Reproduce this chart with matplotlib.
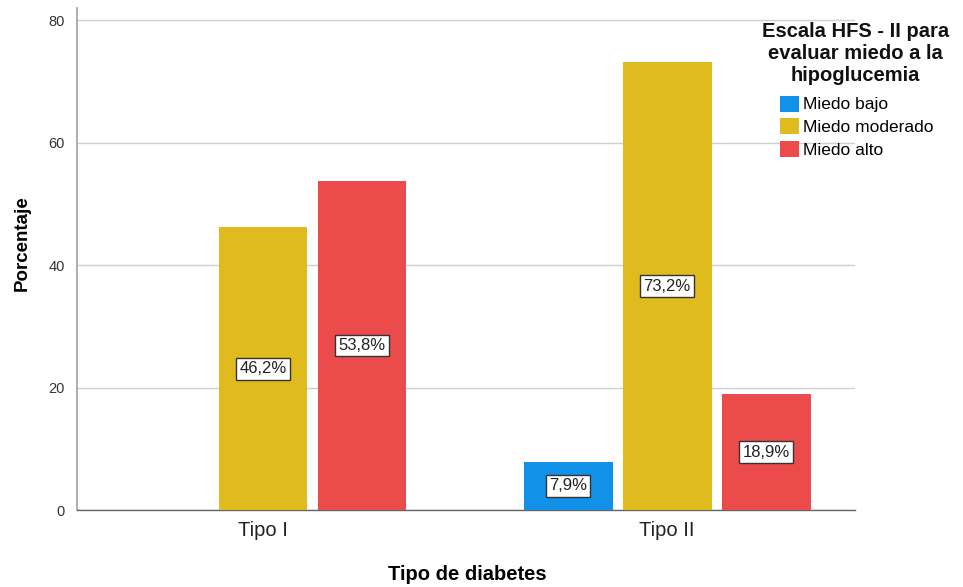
import matplotlib
matplotlib.use("Agg")
import matplotlib.pyplot as plt
import numpy as np

categories = ["Tipo I", "Tipo II"]
series_names = ["Miedo bajo", "Miedo moderado", "Miedo alto"]
miedo_bajo = [None, 7.9]
miedo_moderado = [46.2, 73.2]
miedo_alto = [53.8, 18.9]
colors = ["#1192E8", "#DFBB1E", "#EB4B4B"]
yticks = [0, 20, 40, 60, 80]
legend_title = "Escala HFS - II para\nevaluar miedo a la\nhipoglucemia"

plt.rcParams['font.family'] = ['Liberation Sans', 'DejaVu Sans']

fig = plt.figure(figsize=(9.63, 5.87), dpi=100)
ax = fig.add_axes([0.080, 0.131, 0.808, 0.855])

x = np.arange(len(categories))
width = 0.22
offsets = [-0.245, 0.0, 0.245]
all_series = [miedo_bajo, miedo_moderado, miedo_alto]

handles = []
for s, (vals, off, col, name) in enumerate(zip(all_series, offsets, colors, series_names)):
    xs = [xi + off for xi, v in zip(x, vals) if v is not None]
    vs = [v for v in vals if v is not None]
    bars = ax.bar(xs, vs, width=width, color=col, label=name, zorder=3)
    handles.append(bars)
    for xi, v in zip(xs, vs):
        ax.text(xi, v / 2, f"{v:.1f}%".replace(".", ","), ha="center", va="center",
                fontsize=12, zorder=4, color="#222222",
                bbox=dict(boxstyle="square,pad=0.2", facecolor="white", edgecolor="#333333", linewidth=1))

ax.set_xlim(-0.46, 1.465)
ax.set_ylim(0, 82)
ax.set_yticks(yticks)
ax.set_yticklabels([str(t) for t in yticks], fontsize=10.5, color="#333333")
ax.set_xticks(x)
ax.set_xticklabels(categories, fontsize=14.5, color="#222222")
ax.tick_params(axis="both", length=0)
ax.tick_params(axis="y", pad=9)
ax.tick_params(axis="x", pad=8)
ax.yaxis.grid(True, color="#cfcfcf", linewidth=1, zorder=0)
ax.set_axisbelow(True)
for sp in ["top", "right"]:
    ax.spines[sp].set_visible(False)
ax.spines["left"].set_color("#a0a0a0")
ax.spines["left"].set_linewidth(1.2)
ax.spines["bottom"].set_color("#666666")
ax.spines["bottom"].set_linewidth(1)

ax.set_ylabel("Porcentaje", fontsize=13.5, fontweight="bold", va="center")
ax.yaxis.set_label_coords(-0.071, 0.532)
ax.set_xlabel("Tipo de diabetes", fontsize=14.5, fontweight="bold", va="center")
ax.xaxis.set_label_coords(0.501, -0.129)

fig.text(0.888, 0.963, legend_title, ha="center", va="top", fontsize=14.5,
         fontweight="bold", linespacing=1.2, multialignment="center", color="#111111")

leg = fig.legend(handles=handles, labels=series_names,
                 loc="upper left", bbox_to_anchor=(0.797, 0.858), frameon=False,
                 fontsize=12.5, handlelength=1.1, handleheight=1.05, handletextpad=0.25,
                 labelspacing=0.33, borderpad=0.2)

fig.savefig("out.png", dpi=100)
